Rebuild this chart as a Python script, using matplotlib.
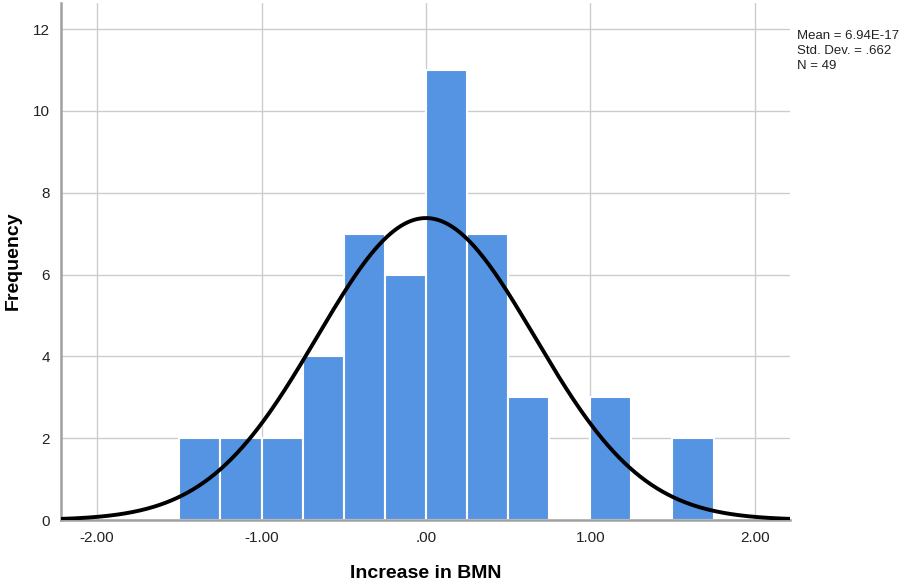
import numpy as np
import matplotlib
matplotlib.use("Agg")
import matplotlib.pyplot as plt

plt.rcParams["font.family"] = ["Liberation Sans", "DejaVu Sans"]

# histogram of Increase in BMN (bins of width .25)
bin_edges = [-1.50, -1.25, -1.00, -0.75, -0.50, -0.25, 0.00, 0.25, 0.50, 0.75, 1.00, 1.25, 1.50, 1.75]
counts = [2, 2, 2, 4, 7, 6, 11, 7, 3, 0, 3, 0, 2]
mean = 6.94e-17
sd = 0.662
n = 49

x_ticks = [-2.0, -1.0, 0.0, 1.0, 2.0]
x_labels = ["-2.00", "-1.00", ".00", "1.00", "2.00"]
y_ticks = [0, 2, 4, 6, 8, 10, 12]

fig = plt.figure(figsize=(9.01, 5.83), dpi=100)
ax = fig.add_axes([61 / 901, 1 - 520 / 583, (790 - 61) / 901, (520 - 3) / 583])

lefts = bin_edges[:-1]
widths = np.diff(bin_edges)
ax.bar(lefts, counts, width=widths, align="edge", color="#5594e2",
       edgecolor="white", linewidth=1.5, zorder=2)

# fitted normal curve
xs = np.linspace(-2.22, 2.22, 400)
binw = 0.25
ys = n * binw / (sd * np.sqrt(2 * np.pi)) * np.exp(-0.5 * ((xs - mean) / sd) ** 2)
ax.plot(xs, ys, color="black", linewidth=2.8, zorder=3)

ax.set_xlim(-2.22, 2.215)
ax.set_ylim(0, 12.64)
ax.set_xticks(x_ticks)
ax.set_xticklabels(x_labels)
ax.set_yticks(y_ticks)
ax.grid(True, color="#cccccc", linewidth=1, zorder=0)
ax.set_axisbelow(True)
ax.tick_params(axis="both", length=0, labelsize=11, colors="#222222", pad=8)

for side in ["top", "right"]:
    ax.spines[side].set_visible(False)
for side in ["left", "bottom"]:
    ax.spines[side].set_color("#a0a0a0")
    ax.spines[side].set_linewidth(1.8)

fig.text(426 / 901, 1 - 573 / 583, "Increase in BMN", fontsize=14,
         fontweight="bold", ha="center", va="center")
fig.text(13 / 901, 1 - 261 / 583, "Frequency", fontsize=14,
         fontweight="bold", ha="center", va="center", rotation=90)

fig.text(797 / 901, 1 - 51 / 583,
         "Mean = 6.94E-17\nStd. Dev. = .662\nN = 49",
         fontsize=9.5, va="center", ha="left", linespacing=1.3, color="#222222")

fig.savefig("out.png", dpi=100)
